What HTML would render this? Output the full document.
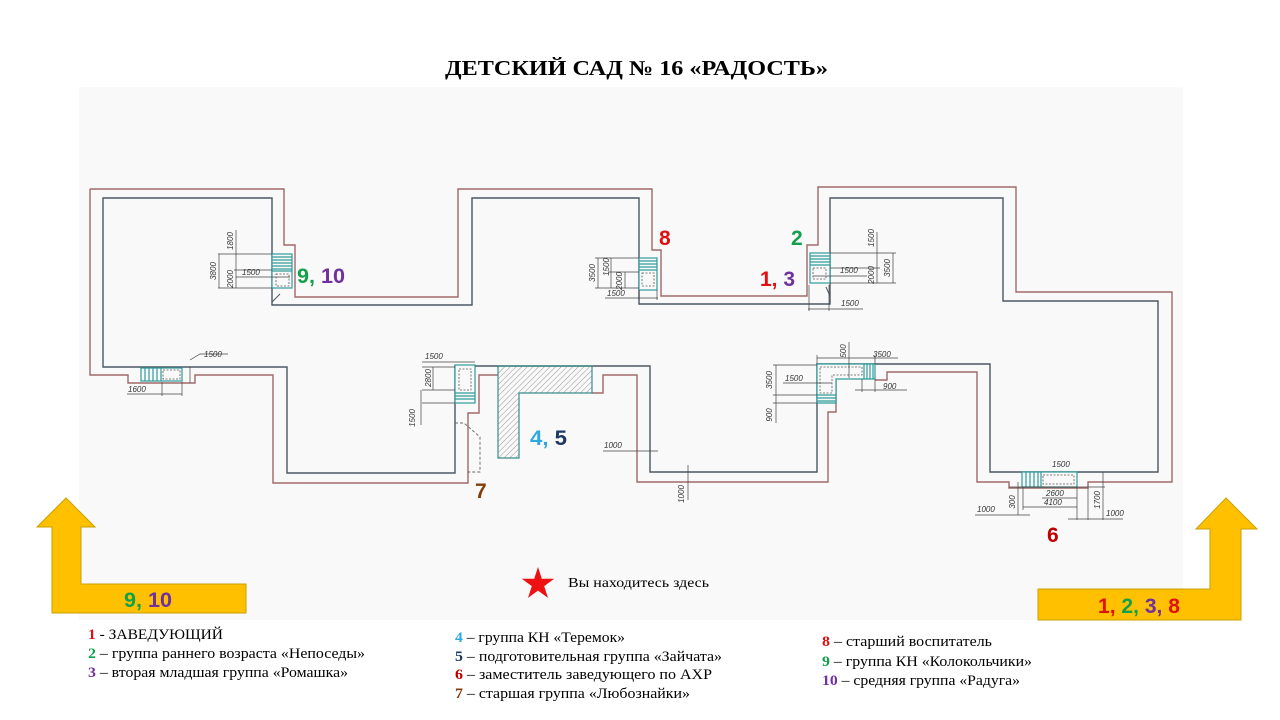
<!DOCTYPE html>
<html><head><meta charset="utf-8">
<style>html,body{margin:0;padding:0;background:#fff;}svg{display:block}</style>
</head>
<body>
<svg width="1280" height="720" viewBox="0 0 1280 720" xmlns="http://www.w3.org/2000/svg">
<defs>
<pattern id="h" patternUnits="userSpaceOnUse" width="4" height="4" patternTransform="rotate(45)">
<line x1="0" y1="0" x2="0" y2="4" stroke="#8a8a8a" stroke-width="0.9"/>
</pattern>
</defs>
<rect width="1280" height="720" fill="#fff"/>
<rect x="79" y="87" width="1104" height="533" fill="#f9f9f9"/>

<text x="445" y="75" textLength="383" lengthAdjust="spacingAndGlyphs" font-family="'Liberation Serif', serif" font-weight="bold" font-size="21" fill="#000">ДЕТСКИЙ САД № 16 «РАДОСТЬ»</text>

<!-- walls -->
<path d="M90,189 H284 V245 H295 V297 H458 V189 H652 V250 H661 V296 H807 V245 H818 V187 H1016 V292 H1172 V482 H1088 V488 H1009 V482 H977 V372 H887 V380 H875 M836,380 V412 H828 V482 H637 V375 H603 V393 H592 M498,375 H479 V413 H468 V483 H273 V375 H195 V383 H128 V375 H90 V189" fill="none" stroke="#a06a6a" stroke-width="1.4"/>
<path d="M103,198 H272 V305 H472 V198 H639 V304 H830 V198 H1003 V301 H1158 V472 H990 V364 H817 V472 H650 V366 H455 V473 H287 V367 H103 Z" fill="none" stroke="#4c5762" stroke-width="1.4"/>

<!-- hatch -->
<path d="M498,366 H592 V393 H519 V458 H498 Z" fill="url(#h)" stroke="#3a8c8c" stroke-width="1.2"/>
<!-- veranda dashed -->
<path d="M455,423 H464 L480,437 V472 H467" fill="none" stroke="#666" stroke-width="0.9" stroke-dasharray="3,2"/>

<g stroke="#2f9a9a" stroke-width="1.2" fill="#f9f9f9">
<rect x="272" y="254" width="20" height="34"/>
<path d="M272,257H292M272,260H292M272,263H292M272,266H292M272,269H292M272,271H292" fill="none"/>
<rect x="276" y="274" width="13" height="12" stroke="#555" stroke-width="0.8" stroke-dasharray="2,1.5" fill="none"/>
<rect x="639" y="258" width="18" height="32"/>
<path d="M639,261H657M639,264H657M639,267H657M639,270H657" fill="none"/>
<rect x="642" y="273" width="12" height="13" stroke="#555" stroke-width="0.8" stroke-dasharray="2,1.5" fill="none"/>
<rect x="810" y="253" width="20" height="30"/>
<path d="M810,256H830M810,259H830M810,262H830M810,265H830" fill="none"/>
<rect x="813" y="268" width="13" height="11" stroke="#555" stroke-width="0.8" stroke-dasharray="2,1.5" fill="none"/>
<rect x="141" y="368" width="41" height="13"/>
<path d="M145,368V381M149,368V381M153,368V381M157,368V381M161,368V381" fill="none"/>
<rect x="163" y="370" width="17" height="9" stroke="#555" stroke-width="0.8" stroke-dasharray="2,1.5" fill="none"/>
<rect x="455" y="365" width="20" height="38"/>
<path d="M455,393H475M455,396H475M455,399H475" fill="none"/>
<rect x="459" y="369" width="12" height="21" stroke="#555" stroke-width="0.8" stroke-dasharray="2,1.5" fill="none"/>
<path d="M817,364 H875 V379 H836 V403 H817 Z"/>
<path d="M864,364V379M867,364V379M870,364V379M873,364V379M817,395H836M817,398H836M817,401H836" fill="none"/>
<path d="M820,367 H862 V375 H832 V393 H820 Z" stroke="#555" stroke-width="0.8" stroke-dasharray="2,1.5" fill="none"/>
<rect x="1022" y="472" width="55" height="15"/>
<path d="M1026,472V487M1030,472V487M1034,472V487M1038,472V487M1041,472V487" fill="none"/>
<rect x="1043" y="475" width="31" height="9" stroke="#555" stroke-width="0.8" stroke-dasharray="2,1.5" fill="none"/>
</g>
<path d="M272,302 L280,294 M826,287 L830,296" stroke="#4c5762" stroke-width="1"/>

<path d="M218,254H272M234,270H272M218,288H272M236,230V288M219,254V288M236,277H290
M190,367V383M190,360L200,354H228M127,394H182M162,382V396M182,382V396
M422,362H475M433,367V390M422,367H455M422,390H455M422,403H455M421,390V425
M595,258H639M608,272H639M595,288H639M598,258V288M611,258V288M625,272V288M605,298H658M639,290V300M657,290V300
M830,253H896M830,268H880M830,283H896M877,232V283M893,253V283M813,276H867M808,309H863M809,285V311M829,285V311
M849,342V378M817,358H898M776,365V423M773,365H817M773,395H817M773,403H817M783,383H832M855,390H907M862,379V392M875,379V392M817,355V364M875,355V364
M603,451H658M688,465V500
M1009,487H1105M1042,498H1077M1023,507H1077M1018,482V515M975,515H1030M1103,472V520M1068,519H1123M1023,487V510M1077,487V520M1088,488V520" fill="none" stroke="#444" stroke-width="0.7"/>

<g font-family="'Liberation Sans', sans-serif" font-style="italic" font-size="8" fill="#333">
<text transform="translate(233,241) rotate(-90)" text-anchor="middle">1800</text>
<text transform="translate(233,279) rotate(-90)" text-anchor="middle">2000</text>
<text transform="translate(216,271) rotate(-90)" text-anchor="middle">3800</text>
<text x="242" y="275">1500</text>
<text x="204" y="357">1500</text>
<text x="128" y="392">1600</text>
<text x="425" y="359">1500</text>
<text transform="translate(431,378) rotate(-90)" text-anchor="middle">2800</text>
<text transform="translate(415,418) rotate(-90)" text-anchor="middle">1500</text>
<text transform="translate(595,273) rotate(-90)" text-anchor="middle">3500</text>
<text transform="translate(609,267) rotate(-90)" text-anchor="middle">1500</text>
<text transform="translate(622,281) rotate(-90)" text-anchor="middle">2000</text>
<text x="607" y="296">1500</text>
<text transform="translate(874,238) rotate(-90)" text-anchor="middle">1500</text>
<text transform="translate(874,275) rotate(-90)" text-anchor="middle">2000</text>
<text transform="translate(890,268) rotate(-90)" text-anchor="middle">3500</text>
<text x="840" y="273">1500</text>
<text x="841" y="306">1500</text>
<text transform="translate(846,351) rotate(-90)" text-anchor="middle">500</text>
<text x="873" y="357">3500</text>
<text transform="translate(772,380) rotate(-90)" text-anchor="middle">3500</text>
<text transform="translate(772,415) rotate(-90)" text-anchor="middle">900</text>
<text x="785" y="381">1500</text>
<text x="883" y="389">900</text>
<text x="604" y="448">1000</text>
<text transform="translate(684,494) rotate(-90)" text-anchor="middle">1000</text>
<text x="1052" y="467">1500</text>
<text x="1046" y="496">2600</text>
<text x="1044" y="505">4100</text>
<text transform="translate(1015,502) rotate(-90)" text-anchor="middle">300</text>
<text x="977" y="512">1000</text>
<text transform="translate(1100,500) rotate(-90)" text-anchor="middle">1700</text>
<text x="1106" y="516">1000</text>
</g>

<g font-family="'Liberation Sans', sans-serif" font-weight="bold" font-size="21">
<text x="297" y="283" textLength="48" lengthAdjust="spacingAndGlyphs"><tspan fill="#12a04a">9, </tspan><tspan fill="#7030a0">10</tspan></text>
<text x="659" y="245" fill="#e01010">8</text>
<text x="791" y="245" fill="#12a04a">2</text>
<text x="760" y="286" textLength="35" lengthAdjust="spacingAndGlyphs"><tspan fill="#e01010">1, </tspan><tspan fill="#7030a0">3</tspan></text>
<text x="530" y="445" textLength="37" lengthAdjust="spacingAndGlyphs"><tspan fill="#2ea8e0">4, </tspan><tspan fill="#1f3864">5</tspan></text>
<text x="475" y="498" fill="#843c0c">7</text>
<text x="1047" y="542" fill="#c00000">6</text>
</g>

<polygon points="66,498 95,527 81,527 81,584 246,584 246,613 52,613 52,527 37,527" fill="#ffc000" stroke="#c9a000" stroke-width="1"/>
<polygon points="1226,498 1257,529 1241,529 1241,620 1038,620 1038,589 1210,589 1210,529 1196,529" fill="#ffc000" stroke="#c9a000" stroke-width="1"/>
<g font-family="'Liberation Sans', sans-serif" font-weight="bold" font-size="21">
<text x="124" y="607" textLength="48" lengthAdjust="spacingAndGlyphs"><tspan fill="#12a04a">9, </tspan><tspan fill="#7030a0">10</tspan></text>
<text x="1098" y="613" textLength="82" lengthAdjust="spacingAndGlyphs"><tspan fill="#e01010">1, </tspan><tspan fill="#12a04a">2, </tspan><tspan fill="#7030a0">3, </tspan><tspan fill="#e01010">8</tspan></text>
</g>

<polygon points="538,567 541.8,578.8 554.2,578.8 544.2,586.1 548,597.9 538,590.6 528,597.9 531.8,586.1 521.8,578.8 534.2,578.8" fill="#ee1111"/>
<text x="568" y="587" textLength="141" lengthAdjust="spacingAndGlyphs" font-family="'Liberation Serif', serif" font-size="14" fill="#000">Вы находитесь  здесь</text>

<g font-family="'Liberation Serif', serif" font-size="14.5" fill="#000">
<text x="88" y="639" textLength="135" lengthAdjust="spacingAndGlyphs"><tspan fill="#e01010" font-weight="bold">1</tspan> - ЗАВЕДУЮЩИЙ</text>
<text x="88" y="658" textLength="277" lengthAdjust="spacingAndGlyphs"><tspan fill="#12a04a" font-weight="bold">2</tspan> – группа раннего возраста «Непоседы»</text>
<text x="88" y="677" textLength="260" lengthAdjust="spacingAndGlyphs"><tspan fill="#7030a0" font-weight="bold">3</tspan> – вторая младшая  группа «Ромашка»</text>

<text x="455" y="642" textLength="170" lengthAdjust="spacingAndGlyphs"><tspan fill="#2ea8e0" font-weight="bold">4</tspan> – группа КН «Теремок»</text>
<text x="455" y="661" textLength="267" lengthAdjust="spacingAndGlyphs"><tspan fill="#1f3864" font-weight="bold">5</tspan> – подготовительная группа «Зайчата»</text>
<text x="455" y="679" textLength="257" lengthAdjust="spacingAndGlyphs"><tspan fill="#c00000" font-weight="bold">6</tspan> – заместитель заведующего  по АХР</text>
<text x="455" y="698" textLength="235" lengthAdjust="spacingAndGlyphs"><tspan fill="#843c0c" font-weight="bold">7</tspan> – старшая  группа «Любознайки»</text>

<text x="822" y="646" textLength="170" lengthAdjust="spacingAndGlyphs"><tspan fill="#e01010" font-weight="bold">8</tspan> – старший воспитатель</text>
<text x="822" y="666" textLength="210" lengthAdjust="spacingAndGlyphs"><tspan fill="#12a04a" font-weight="bold">9</tspan> – группа КН «Колокольчики»</text>
<text x="822" y="685" textLength="198" lengthAdjust="spacingAndGlyphs"><tspan fill="#7030a0" font-weight="bold">10</tspan> – средняя группа «Радуга»</text>
</g>
</svg>
</body></html>
